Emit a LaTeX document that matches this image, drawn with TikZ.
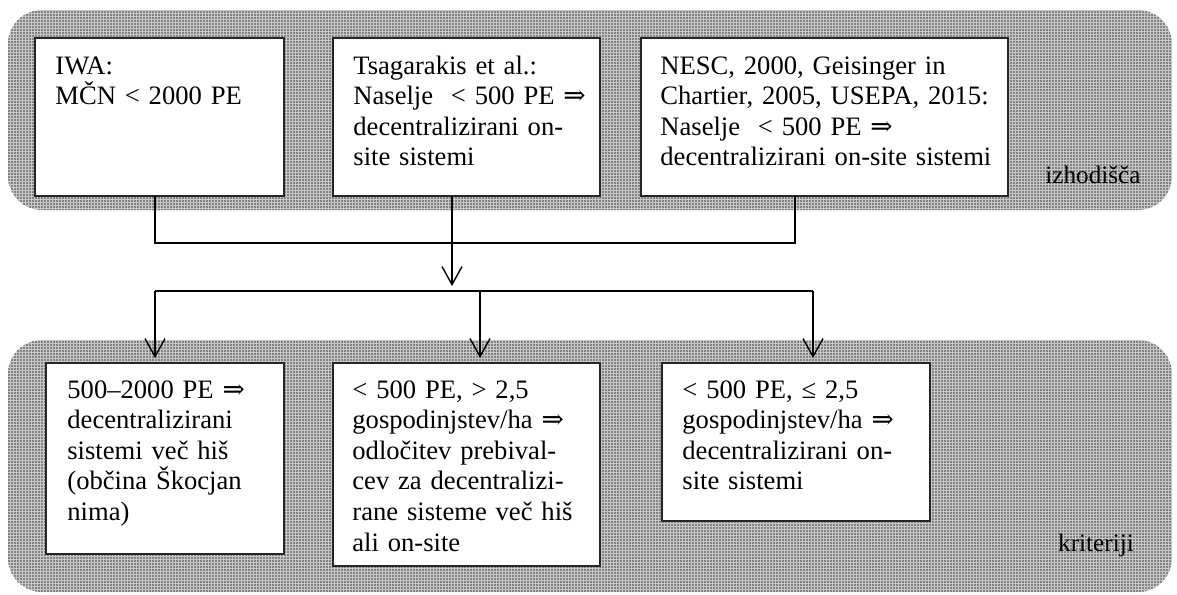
\documentclass[tikz,border=0pt]{standalone}
\usepackage{fontspec}
\setmainfont{Liberation Serif}
\newfontfamily\symfont{DejaVu Serif}
\newcommand{\impl}{{\symfont\fontsize{13.3pt}{15.3pt}\selectfont ⇒}}
\usetikzlibrary{arrows.meta,calc,patterns.meta}
\begin{document}
\begin{tikzpicture}[x=0.5pt,y=-0.5pt,
  panel/.style={rounded corners=17pt},
  box/.style={draw=black!85, line width=0.7pt, fill=white, inner sep=0pt, outer sep=0pt, anchor=north west},
  txt/.style={anchor=base west, inner sep=0pt, align=left,
    font=\fontsize{13.3pt}{15.3pt}\selectfont},
  lbl/.style={anchor=base, inner sep=0pt, font=\fontsize{12.6pt}{15pt}\selectfont},
  line/.style={draw=black, line width=0.7pt},
  arr/.style={line, -{Straight Barb[length=9pt,width=10pt,line width=0.7pt]}, shorten >=2.5pt}]
\useasboundingbox (0,0) rectangle (1177,594);

% dotted grey background panels
\foreach \ya/\yb in {10/210, 340/592}{
  \fill[panel, black!22] (8,\ya) rectangle (1172,\yb);
  \fill[panel, pattern={Dots[distance=1.5pt, radius=0.42pt]}, pattern color=black!75] (8,\ya) rectangle (1172,\yb);
}
\node[lbl] (lab1) at (1093,183) {izhodišča};
\node[lbl] (lab2) at (1096,551) {kriteriji};

% starting points
\node[box, minimum width=124.5pt, minimum height=79pt] (b1) at (35,38) {};
\node[box, minimum width=133.5pt, minimum height=79pt] (b2) at (333,38) {};
\node[box, minimum width=183.5pt, minimum height=79pt] (b3) at (641,38) {};
\node[txt, text width=110pt] (t1) at (55,74) {IWA:\\MČN < 2000 PE};
\node[txt, text width=120pt] (t2) at (353,74) {Tsagarakis et al.:\\Naselje\ \ < 500 PE \impl\\decentralizirani on-\\site sistemi};
\node[txt, text width=170pt] (t3) at (660,74) {NESC, 2000, Geisinger in\\Chartier, 2005, USEPA, 2015:\\Naselje\ \ < 500 PE \impl\\decentralizirani on-site sistemi};

% criteria
\node[box, minimum width=119pt, minimum height=95.5pt] (b4) at (46,363) {};
\node[box, minimum width=133.5pt, minimum height=101.5pt] (b5) at (333,363) {};
\node[box, minimum width=134pt, minimum height=79pt] (b6) at (662,363) {};
\node[txt, text width=105pt] (t4) at (67,398) {500–2000 PE \impl\\decentralizirani\\sistemi več hiš\\(občina Škocjan\\nima)};
\node[txt, text width=120pt] (t5) at (352,398) {< 500 PE, > 2,5\\gospodinjstev/ha \impl\\odločitev prebival-\\cev za decentralizi-\\rane sisteme več hiš\\ali on-site};
\node[txt, text width=120pt] (t6) at (682,398) {< 500 PE, ≤ 2,5\\gospodinjstev/ha \impl\\decentralizirani on-\\site sistemi};

% connectors
\coordinate (o1) at ($(b1.south west)+(120,0)$);
\coordinate (o2) at ($(b2.south west)+(119,0)$);
\coordinate (o3) at ($(b3.south west)+(154,0)$);
\coordinate (j1) at (452,243);
\coordinate (j2) at (452,291);
\coordinate (i1) at ($(b4.north west)+(109,0)$);
\coordinate (i2) at ($(b5.north west)+(147,0)$);
\coordinate (i3) at ($(b6.north west)+(151,0)$);

\draw[line] (o1) |- (j1 -| o3) -- (o3);
\draw[line] (o2) -- (j1);
\draw[arr] (j1) -- (j2);
\draw[line] (j2 -| i1) -- (j2 -| i3);
\draw[arr] (j2 -| i1) -- (i1);
\draw[arr] (j2 -| i2) -- (i2);
\draw[arr] (j2 -| i3) -- (i3);
\end{tikzpicture}
\end{document}
